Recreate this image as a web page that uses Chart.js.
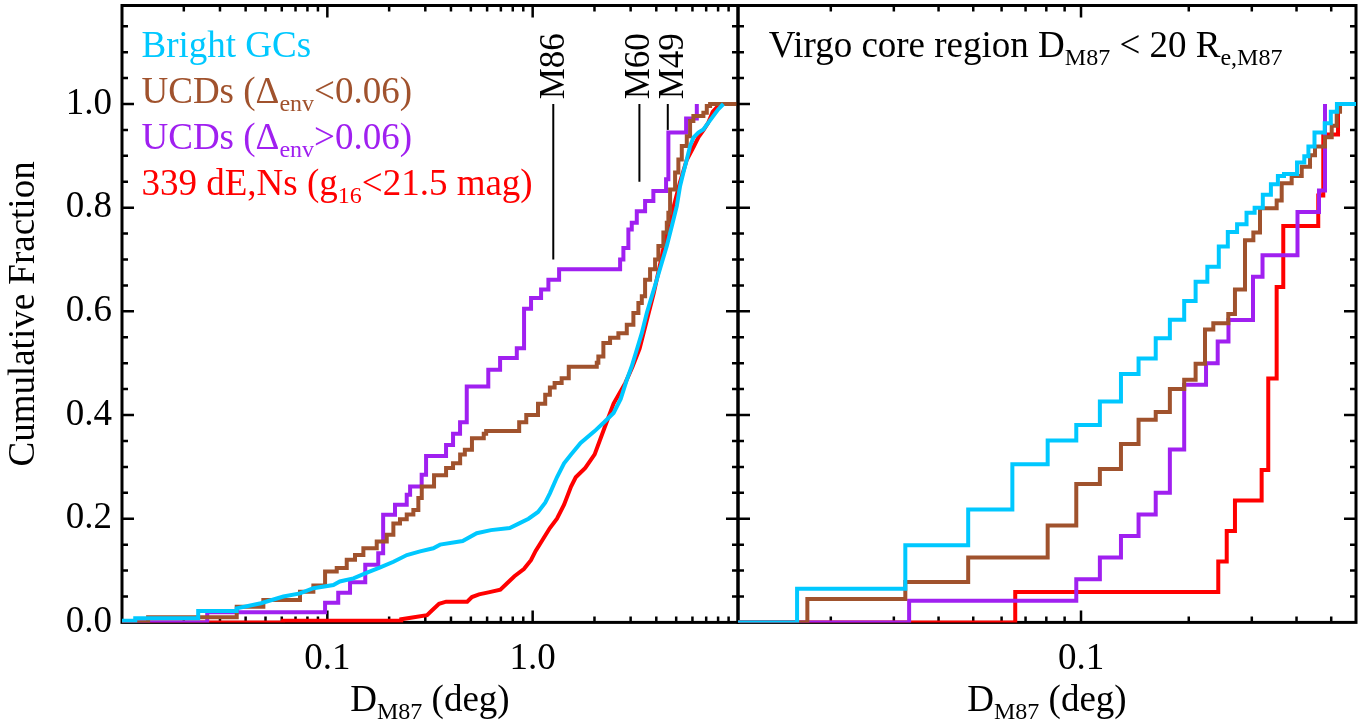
<!DOCTYPE html>
<html><head><meta charset="utf-8">
<script src="https://cdn.jsdelivr.net/npm/chart.js@4.4.1/dist/chart.umd.min.js"></script>
<style>
html,body{margin:0;padding:0;background:#fff;width:1367px;height:720px;overflow:hidden}
#wrapL{position:absolute;left:0;top:0;width:760px;height:720px}
#wrapR{position:absolute;left:720px;top:0;width:647px;height:720px}
</style></head><body>
<div id="wrapL"><canvas id="cL" width="760" height="720"></canvas></div>
<div id="wrapR"><canvas id="cR" width="647" height="720"></canvas></div>
<script>
// ---------------- DATA ----------------
// Left panel: all Virgo
const gcAllX = [0.0100,0.0116,0.0116,0.0235,0.0235,0.0362,0.0362,0.0475,0.0611,0.0736,0.0855,0.107,0.115,0.134,0.156,0.181,0.210,0.244,0.283,0.328,0.354,0.456,0.534,0.626,0.773,0.860,0.955,1.062,1.151,1.213,1.313,1.422,1.538,1.712,2.004,2.227,2.478,2.684,2.873,3.038,3.214,3.400,3.596,3.803,4.022,4.255,4.500,4.759,5.034,5.224,5.421,5.631,5.843,6.063,6.413,6.783,7.174,7.588,8.025,8.489];
const gcAllY = [0.003,0.003,0.008,0.008,0.022,0.022,0.027,0.037,0.050,0.056,0.066,0.072,0.079,0.085,0.096,0.106,0.117,0.130,0.137,0.143,0.150,0.157,0.172,0.178,0.182,0.191,0.200,0.213,0.231,0.249,0.280,0.307,0.324,0.346,0.369,0.386,0.404,0.431,0.468,0.494,0.526,0.558,0.597,0.629,0.661,0.694,0.726,0.764,0.803,0.842,0.868,0.893,0.919,0.935,0.945,0.951,0.964,0.977,0.990,1.0];

const ucdLowAllX = [0.0100,0.0134,0.0362,0.0488,0.0736,0.0855,0.0975,0.1111,0.1243,0.1364,0.1498,0.1740,0.1947,0.2097,0.2259,0.2436,0.2624,0.2775,0.2883,0.3309,0.3787,0.4095,0.4434,0.4674,0.5062,0.5778,0.5936,0.8596,0.9307,1.062,1.151,1.213,1.279,1.384,1.499,2.052,2.089,2.210,2.382,2.615,2.873,3.094,3.273,3.400,3.528,3.731,3.947,4.096,4.331,4.500,4.581,4.670,4.939,5.125,5.324,5.631,5.843,6.063,6.783,7.047,7.313,10];
const ucdLowAllY = [0,0.010,0.030,0.043,0.059,0.071,0.098,0.105,0.121,0.130,0.143,0.156,0.169,0.191,0.199,0.208,0.217,0.240,0.262,0.284,0.298,0.307,0.324,0.333,0.355,0.364,0.369,0.386,0.400,0.422,0.439,0.453,0.462,0.471,0.493,0.501,0.513,0.539,0.549,0.558,0.574,0.597,0.616,0.629,0.661,0.681,0.700,0.726,0.752,0.771,0.790,0.835,0.868,0.893,0.919,0.938,0.967,0.977,0.983,0.996,1.0,1.0];

const ucdHighAllX = [0.0100,0.0260,0.0975,0.113,0.129,0.153,0.177,0.187,0.2136,0.2436,0.253,0.288,0.3026,0.3786,0.4095,0.443,0.4775,0.608,0.694,0.837,0.908,0.982,1.099,1.193,1.345,2.666,2.766,2.925,3.038,3.214,3.528,3.871,4.464,4.581,5.588,6.301];
const ucdHighAllY = [0,0.0195,0.038,0.057,0.0775,0.111,0.1335,0.2075,0.227,0.246,0.262,0.285,0.321,0.342,0.364,0.386,0.455,0.4875,0.510,0.529,0.605,0.626,0.642,0.661,0.681,0.700,0.722,0.758,0.771,0.793,0.813,0.832,0.855,0.945,0.972,1.0];

const dENAllX = [0.0100,0.0609,0.0609,0.229,0.229,0.255,0.306,0.323,0.350,0.379,0.480,0.506,0.548,0.609,0.696,0.753,0.815,0.906,0.981,1.034,1.120,1.213,1.313,1.422,1.538,1.621,1.804,2.004,2.227,2.478,2.828,3.063,3.317,3.587,3.886,4.207,4.435,4.802,5.200,5.625,6.092,6.421,6.776,7.143,7.530,8.154];
const dENAllY = [0,0,0.003,0.003,0.006,0.009,0.014,0.023,0.036,0.040,0.040,0.049,0.054,0.058,0.063,0.076,0.089,0.103,0.120,0.138,0.160,0.182,0.200,0.227,0.262,0.280,0.298,0.324,0.373,0.422,0.462,0.493,0.528,0.581,0.635,0.697,0.741,0.794,0.847,0.892,0.918,0.936,0.949,0.963,0.985,1.0];

// Right panel: Virgo core region
const gcCoreX = [0.01101,0.0161,0.0323,0.0484,0.0643,0.0807,0.0970,0.1129,0.1293,0.1448,0.1617,0.1771,0.1942,0.2090,0.2254,0.2426,0.2571,0.2729,0.2900,0.3055,0.3220,0.3392,0.3548,0.3690,0.4013,0.4205,0.4318,0.4490,0.4795,0.4987,0.5187,0.5864];
const gcCoreY = [0,0.065,0.149,0.218,0.305,0.351,0.381,0.426,0.479,0.509,0.548,0.584,0.620,0.657,0.686,0.725,0.753,0.768,0.790,0.800,0.825,0.845,0.861,0.865,0.887,0.899,0.918,0.945,0.963,0.985,1.0,1.0];

const ucdLowCoreX = [0.01101,0.0172,0.0323,0.0484,0.0807,0.0970,0.1129,0.1293,0.1448,0.1617,0.1771,0.1942,0.2090,0.2220,0.2342,0.2579,0.2692,0.2872,0.3030,0.3162,0.3520,0.3636,0.3877,0.4136,0.4363,0.4504,0.4804,0.5016,0.5180,0.5292];
const ucdLowCoreY = [0,0.045,0.078,0.125,0.187,0.267,0.296,0.344,0.391,0.406,0.450,0.468,0.499,0.565,0.577,0.595,0.642,0.737,0.752,0.799,0.814,0.847,0.861,0.879,0.901,0.918,0.936,0.958,0.985,1.0];

const ucdHighCoreX = [0.01101,0.0331,0.0970,0.1129,0.1293,0.1448,0.1617,0.1771,0.1942,0.2235,0.2409,0.2582,0.3023,0.3214,0.4025,0.4622,0.4804];
const ucdHighCoreY = [0,0.0417,0.0833,0.125,0.1667,0.2083,0.25,0.3333,0.4583,0.5,0.5417,0.5833,0.6667,0.7083,0.7917,0.8333,1.0];

const dENCoreX = [0.01101,0.0655,0.2418,0.2553,0.2692,0.3196,0.3335,0.3520,0.3673,0.4600,0.4751,0.5224];
const dENCoreY = [0,0.0588,0.1176,0.1765,0.2353,0.2941,0.4706,0.6471,0.7647,0.8235,0.9412,1.0];

// Galaxy markers (distance from M87, deg)
const galaxyNames = ['M86','M60','M49'];
const galaxyDist = [1.26, 3.31, 4.55];
const galaxyLabelDist = [1.25, 3.24, 4.76];
const galaxyLineBottom = [0.70, 0.85, 0.95];
const galaxyLineTop = 1.0;
const galaxyLabelStart = 1.009;

// Axis ticks
const xMajorL = [0.01, 0.1, 1, 10];
const xMinorL = [0.02,0.03,0.04,0.05,0.06,0.07,0.08,0.09,0.2,0.3,0.4,0.5,0.6,0.7,0.8,0.9,2,3,4,5,6,7,8,9];
const xLabelValsL = [0.1, 1];
const xLabelTextL = ['0.1', '1.0'];
const xMajorR = [0.1];
const xMinorR = [0.02,0.03,0.04,0.05,0.06,0.07,0.08,0.09,0.2,0.3,0.4,0.5];
const xLabelValsR = [0.1];
const xLabelTextR = ['0.1'];
const yMajor = [0, 0.2, 0.4, 0.6, 0.8, 1.0];
const yLabelText = ['0.0','0.2','0.4','0.6','0.8','1.0'];
const yMinor = [0.05,0.1,0.15,0.25,0.3,0.35,0.45,0.5,0.55,0.65,0.7,0.75,0.85,0.9,0.95,1.05,1.1,1.15];

// Series meta
const seriesNames = ['Bright GCs', 'UCDs (Δenv<0.06)', 'UCDs (Δenv>0.06)', '339 dE,Ns (g16<21.5 mag)'];
const legendParts = [
  [['Bright GCs',0]],
  [['UCDs (Δ',0],['env',1],['<0.06)',0]],
  [['UCDs (Δ',0],['env',1],['>0.06)',0]],
  [['339 dE,Ns (g',0],['16',1],['<21.5 mag)',0]]
];
const coreTitleParts = [['Virgo core region D',0],['M87',1],[' < 20 R',0],['e,M87',1]];
const xTitleParts = [['D',0],['M87',1],[' (deg)',0]];
const yTitle = 'Cumulative Fraction';

// ---------------- STYLE ----------------
const COLORS = ['#00C8FF', '#A0522D', '#A020F0', '#FF0000'];
const FONT = '"Liberation Serif", "Times New Roman", serif';
const MAIN = 37, SUB = 24, SUBDY = 8;
const LW = 4;

const pts = (xs, ys) => xs.map((x, i) => ({x, y: ys[i]}));

function drawRich(ctx, parts, x, y, color) {
  ctx.fillStyle = color; ctx.textAlign = 'left'; ctx.textBaseline = 'alphabetic';
  let cx = x;
  for (const p of parts) {
    const sub = p[1] === 1;
    ctx.font = (sub ? SUB : MAIN) + 'px ' + FONT;
    ctx.fillText(p[0], cx, sub ? y + SUBDY : y);
    cx += ctx.measureText(p[0]).width;
  }
  return cx - x;
}
function richWidth(ctx, parts) {
  let w = 0;
  for (const p of parts) { ctx.font = (p[1] === 1 ? SUB : MAIN) + 'px ' + FONT; w += ctx.measureText(p[0]).width; }
  return w;
}

const deco = {
  id: 'deco',
  beforeDatasetsDraw(chart, args, o) {
    const {ctx, chartArea: a} = chart; const xs = chart.scales.x, ys = chart.scales.y;
    ctx.save(); ctx.strokeStyle = '#000'; ctx.lineWidth = 2.5; ctx.beginPath();
    const vt = (vals, len) => vals.forEach(v => { const p = xs.getPixelForValue(v); if (p < a.left + 1 || p > a.right - 1) return;
      ctx.moveTo(p, a.bottom); ctx.lineTo(p, a.bottom - len); ctx.moveTo(p, a.top); ctx.lineTo(p, a.top + len); });
    const ht = (vals, len) => vals.forEach(v => { const p = ys.getPixelForValue(v); if (p < a.top + 1 || p > a.bottom - 1) return;
      ctx.moveTo(a.left, p); ctx.lineTo(a.left + len, p); ctx.moveTo(a.right, p); ctx.lineTo(a.right - len, p); });
    vt(o.xMajor, 12); vt(o.xMinor, 6); ht(yMajor, 12); ht(yMinor, 6);
    ctx.stroke();
    ctx.lineWidth = 3; ctx.strokeRect(a.left, a.top, a.width, a.height);
    ctx.restore();
  },
  afterDatasetsDraw(chart, args, o) {
    const {ctx, chartArea: a} = chart; const xs = chart.scales.x, ys = chart.scales.y;
    ctx.save();
    const w = richWidth(ctx, xTitleParts);
    drawRich(ctx, xTitleParts, (a.left + a.right) / 2 - w / 2, 711, '#000');
    if (o.kind === 'left') {
      legendParts.forEach((parts, i) => drawRich(ctx, parts, a.left + 19.5, 57 + 46 * i, COLORS[i]));
      ctx.strokeStyle = '#000'; ctx.lineWidth = 2;
      galaxyNames.forEach((n, i) => {
        const px = xs.getPixelForValue(galaxyDist[i]);
        ctx.beginPath(); ctx.moveTo(px, ys.getPixelForValue(galaxyLineTop)); ctx.lineTo(px, ys.getPixelForValue(galaxyLineBottom[i])); ctx.stroke();
        ctx.save();
        ctx.translate(xs.getPixelForValue(galaxyLabelDist[i]), ys.getPixelForValue(galaxyLabelStart));
        ctx.rotate(-Math.PI / 2);
        ctx.font = '35px ' + FONT; ctx.fillStyle = '#000'; ctx.textAlign = 'left'; ctx.textBaseline = 'middle';
        ctx.fillText(n, 0, 2);
        ctx.restore();
      });
    } else {
      drawRich(ctx, coreTitleParts, a.left + 30.7, 57.4, '#000');
    }
    ctx.restore();
  }
};

function makeDatasets(sets, stepFlags) {
  // draw order: cyan on top, then brown, purple, red at bottom
  return sets.map((s, i) => ({
    label: seriesNames[i], data: s, borderColor: COLORS[i], borderWidth: LW,
    pointRadius: 0, tension: 0, fill: false, stepped: stepFlags[i] ? 'before' : false,
    borderJoinStyle: 'miter', borderCapStyle: 'butt', order: i
  }));
}

const commonY = (showLabels, w) => ({
  type: 'linear', min: 0, max: 1.19,
  grid: {display: false, drawTicks: false}, border: {display: false},
  afterBuildTicks: s => { s.ticks = yMajor.map(v => ({value: v})); },
  ticks: {display: showLabels, color: '#000', padding: 10, autoSkip: false,
    font: {family: FONT, size: 37}, callback: (v, i) => yLabelText[i]},
  title: {display: showLabels, text: yTitle, color: '#000', font: {family: FONT, size: 37}, padding: {top: 2, bottom: 0}},
  afterFit: s => { s.width = w; s.paddingTop = 0; s.paddingBottom = 0; }
});

const xAxis = (min, max, vals, texts) => ({
  type: 'logarithmic', min, max,
  grid: {display: false, drawTicks: false}, border: {display: false},
  afterBuildTicks: s => { s.ticks = vals.map(v => ({value: v})); },
  ticks: {color: '#000', padding: 15, autoSkip: false, maxRotation: 0,
    font: {family: FONT, size: 37}, callback: (v, i) => texts[i]},
  afterFit: s => { s.height = 97.6; s.paddingLeft = 0; s.paddingRight = 0; }
});

new Chart(document.getElementById('cL'), {
  type: 'line',
  data: {datasets: makeDatasets([pts(gcAllX, gcAllY), pts(ucdLowAllX, ucdLowAllY), pts(ucdHighAllX, ucdHighAllY), pts(dENAllX, dENAllY)], [false, true, true, false])},
  options: {
    responsive: false, animation: false, devicePixelRatio: 1,
    layout: {padding: {left: 0, right: 22, top: 5.5, bottom: 0}},
    plugins: {legend: {display: false}, tooltip: {enabled: false},
      deco: {kind: 'left', xMajor: xMajorL, xMinor: xMinorL}},
    scales: { x: xAxis(0.01, 10, xLabelValsL, xLabelTextL), y: commonY(true, 122) }
  },
  plugins: [deco]
});

new Chart(document.getElementById('cR'), {
  type: 'line',
  data: {datasets: makeDatasets([pts(gcCoreX, gcCoreY), pts(ucdLowCoreX, ucdLowCoreY), pts(ucdHighCoreX, ucdHighCoreY), pts(dENCoreX, dENCoreY)], [true, true, true, true])},
  options: {
    responsive: false, animation: false, devicePixelRatio: 1,
    layout: {padding: {left: 0, right: 11, top: 5.5, bottom: 0}},
    plugins: {legend: {display: false}, tooltip: {enabled: false},
      deco: {kind: 'right', xMajor: xMajorR, xMinor: xMinorR}},
    scales: { x: xAxis(0.01101, 0.5864, xLabelValsR, xLabelTextR), y: commonY(false, 18) }
  },
  plugins: [deco]
});
</script>
</body></html>
